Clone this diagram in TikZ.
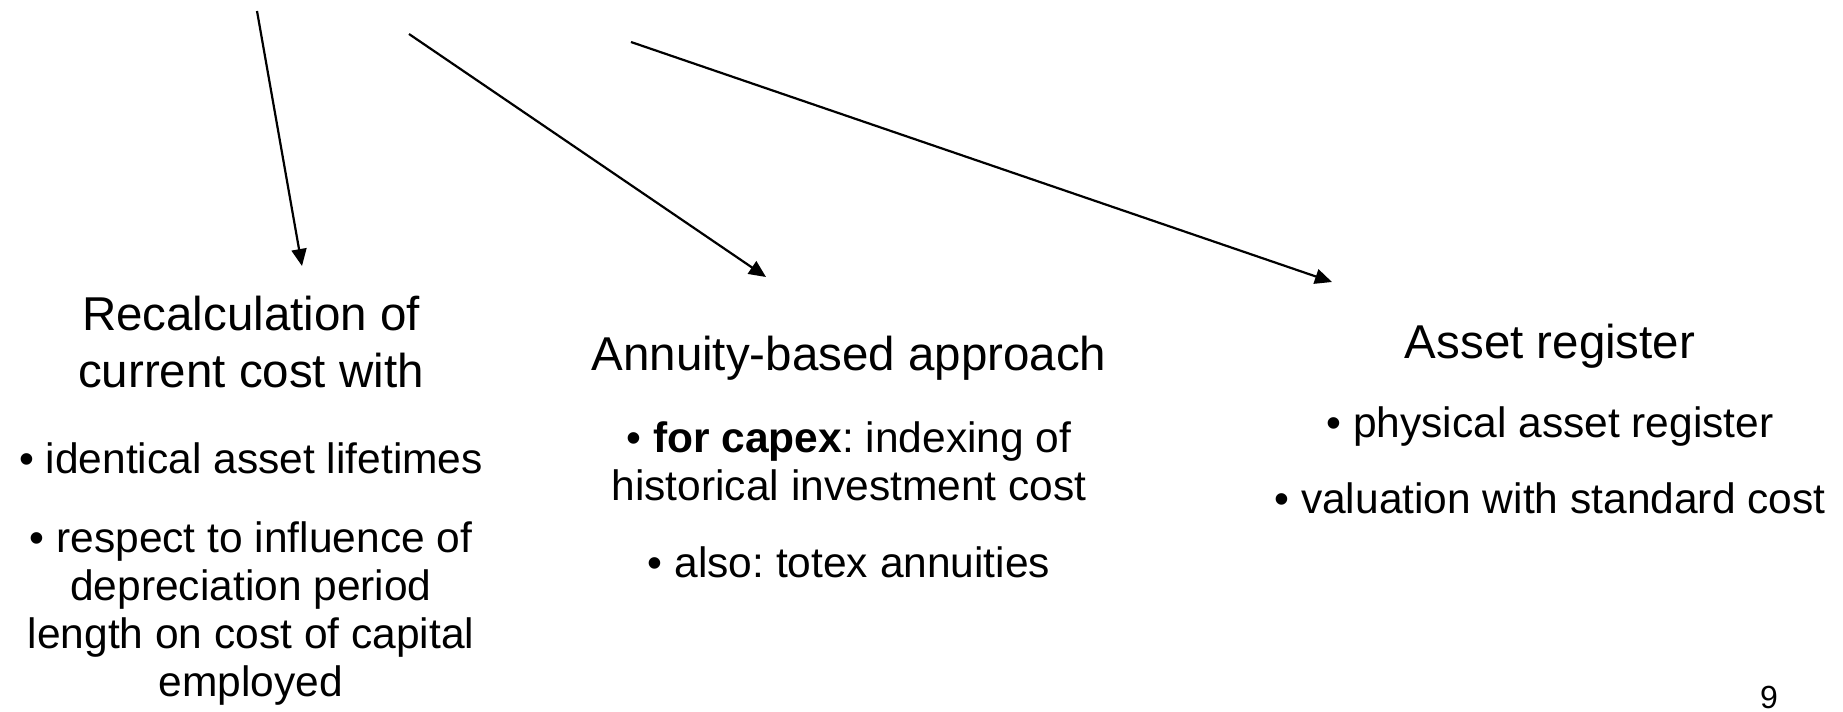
\documentclass[tikz,border=0pt]{standalone}
\usepackage{fontspec}
\setmainfont{Liberation Sans}
\frenchspacing
\usetikzlibrary{arrows.meta}
\tikzset{
  titletext/.style={font=\fontsize{23.75}{28}\selectfont, anchor=base, inner sep=0pt},
  bodytext/.style={font=\fontsize{21.25}{24}\selectfont, anchor=base, inner sep=0pt},
  pagenum/.style={font=\fontsize{16}{19}\selectfont, anchor=base, inner sep=0pt},
  pointer/.style={line width=1.1pt, -{Triangle[length=8.5pt,width=7.5pt]}}
}
\begin{document}
\begin{tikzpicture}[x=0.5pt,y=-0.5pt]
\useasboundingbox[fill=white] (0,0) rectangle (1843,712);
% column 1
\node[titletext] (t1a) at (251,330) {Recalculation of};
\node[titletext] (t1b) at (251,387) {current cost with};
\node[bodytext] (b1a) at (251,473) {• identical asset lifetimes};
\node[bodytext] (b1b) at (251,552) {• respect to influence of};
\node[bodytext] (b1c) at (251,600) {depreciation period};
\node[bodytext] (b1d) at (251,648) {length on cost of capital};
\node[bodytext] (b1e) at (251,696) {employed};
% column 2
\node[titletext] (t2) at (849,370) {Annuity-based approach};
\node[bodytext] (b2a) at (849,452) {• \textbf{for capex}: indexing of};
\node[bodytext] (b2b) at (849,500) {historical investment cost};
\node[bodytext] (b2c) at (849,577) {• also: totex annuities};
% column 3
\node[titletext] (t3) at (1550,358) {Asset register};
\node[bodytext] (b3a) at (1550,437) {• physical asset register};
\node[bodytext] (b3b) at (1550,513) {• valuation with standard cost};
% page number
\node[pagenum] (pg) at (1769,708) {9};
% arrows
\coordinate (s1) at (257,11);
\coordinate (e1) at (302,266);
\coordinate (s2) at (409,34);
\coordinate (e2) at (766,277);
\coordinate (s3) at (631,42);
\coordinate (e3) at (1332,282);
\draw[pointer] (s1) -- (e1);
\draw[pointer] (s2) -- (e2);
\draw[pointer] (s3) -- (e3);
\end{tikzpicture}
\end{document}
